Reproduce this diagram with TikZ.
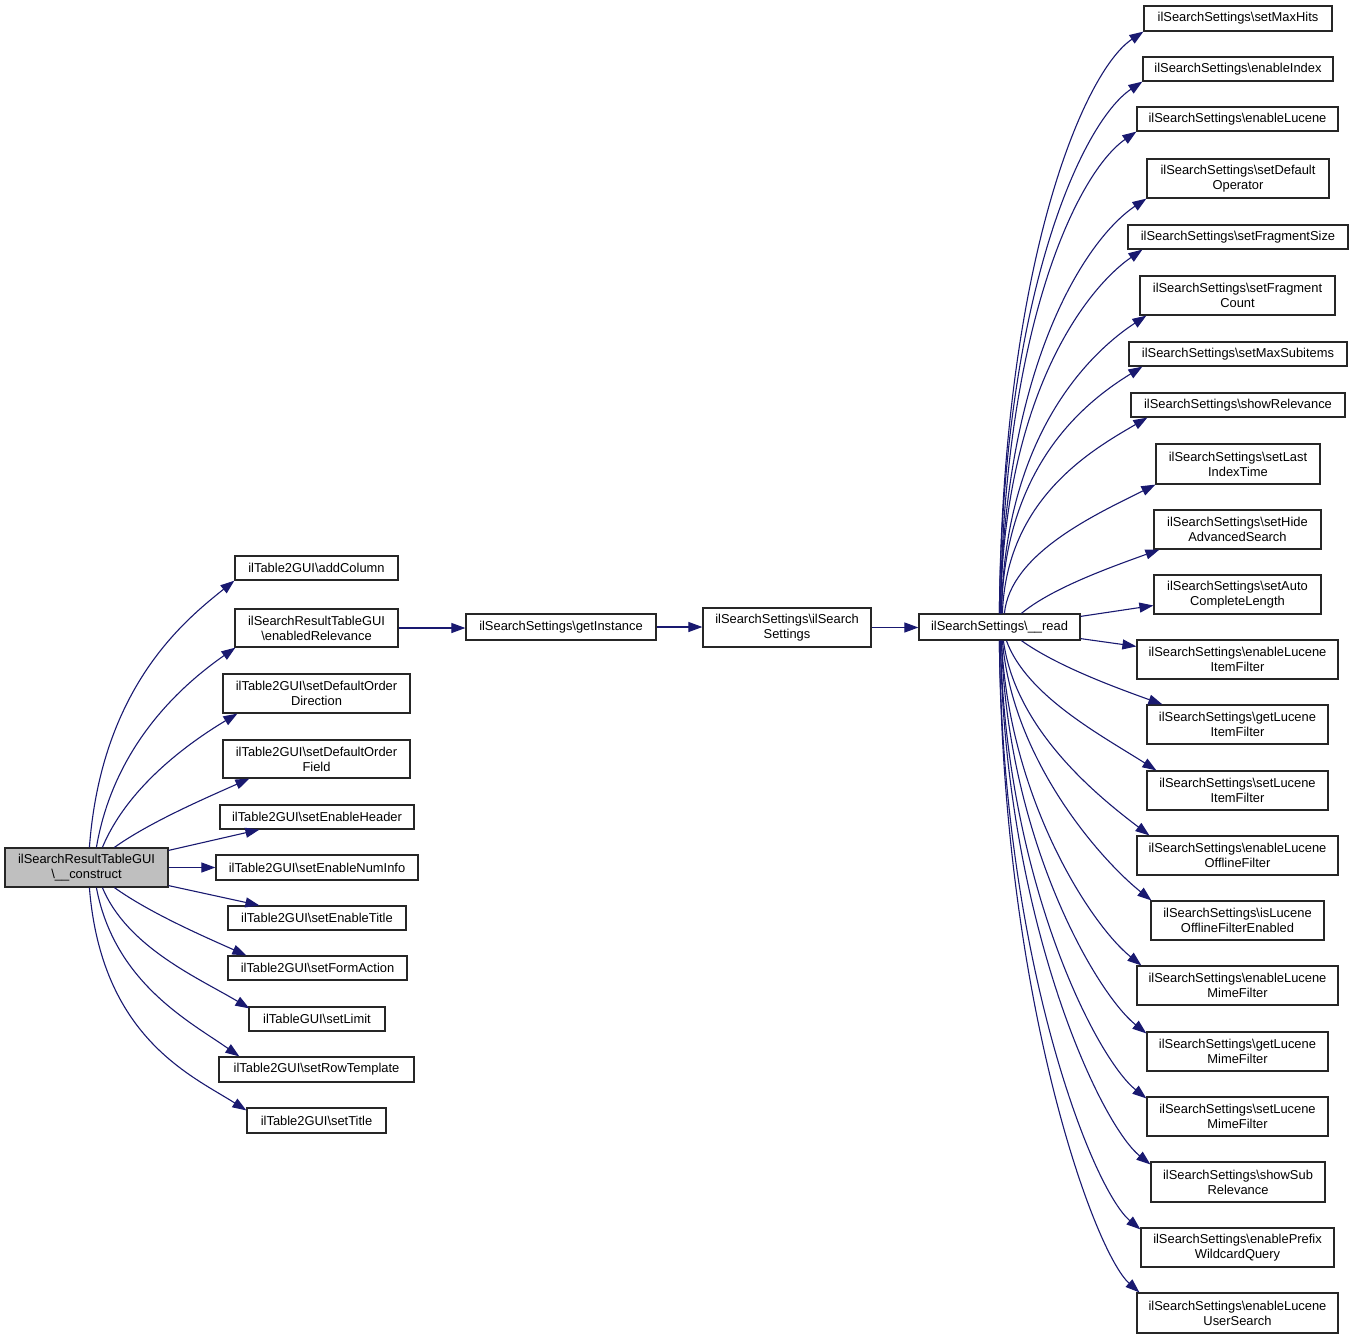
\documentclass[tikz,border=0pt]{standalone}
\usepackage{fontspec}
\setmainfont{Liberation Sans}
\usetikzlibrary{arrows.meta,calc}
\definecolor{edgec}{HTML}{191970}
\definecolor{rootfill}{HTML}{BFBFBF}
\tikzset{
  box/.style={draw=black!85,line width=1.2pt,fill=white,inner sep=0pt,align=center,
    font=\fontsize{12.9}{15}\selectfont},
  edge/.style={draw=edgec,line width=1.1pt,-{Triangle[length=14pt,width=10pt]}}
}
\newcommand\bx[7][]{\node[box,#1,minimum width={(#5-#3)*1pt},minimum height={(#6-#4)*1pt}] (#2) at ({(#3+#5)/2},{(#4+#6)/2}) {#7};}
\newcommand\bs{\textbackslash}
\begin{document}
\begin{tikzpicture}[x=1pt,y=-1pt]
\useasboundingbox (0,0) rectangle (1353,1339);
% root
\bx[fill=rootfill]{root}{5}{848}{168}{887}{ilSearchResultTableGUI\\\bs\_\_construct}
% left column
\bx{addc}{235}{556}{398}{580}{ilTable2GUI\bs addColumn}
\bx{enrel}{235}{609}{398}{647}{ilSearchResultTableGUI\\\bs enabledRelevance}
\bx{sdod}{223}{674}{410}{713}{ilTable2GUI\bs setDefaultOrder\\Direction}
\bx{sdof}{223}{740}{410}{778}{ilTable2GUI\bs setDefaultOrder\\Field}
\bx{seh}{220}{805}{414}{829}{ilTable2GUI\bs setEnableHeader}
\bx{seni}{216}{855}{418}{880}{ilTable2GUI\bs setEnableNumInfo}
\bx{set}{228}{906}{406}{930}{ilTable2GUI\bs setEnableTitle}
\bx{sfa}{228}{956}{407}{980}{ilTable2GUI\bs setFormAction}
\bx{slim}{249}{1007}{385}{1031}{ilTableGUI\bs setLimit}
\bx{srt}{219}{1057}{414}{1082}{ilTable2GUI\bs setRowTemplate}
\bx{stit}{247}{1108}{386}{1133}{ilTable2GUI\bs setTitle}
% middle
\bx{gi}{466}{614}{656}{640}{ilSearchSettings\bs getInstance}
\bx{iss}{703}{608}{871}{647}{ilSearchSettings\bs ilSearch\\Settings}
\bx{read}{919}{614}{1080}{640}{ilSearchSettings\bs\_\_read}
% right column
\bx{r1}{1144}{6}{1332}{31}{ilSearchSettings\bs setMaxHits}
\bx{r2}{1143}{57}{1333}{81}{ilSearchSettings\bs enableIndex}
\bx{r3}{1137}{107}{1338}{131}{ilSearchSettings\bs enableLucene}
\bx{r4}{1147}{159}{1329}{198}{ilSearchSettings\bs setDefault\\Operator}
\bx{r5}{1128}{225}{1348}{249}{ilSearchSettings\bs setFragmentSize}
\bx{r6}{1140}{276}{1335}{315}{ilSearchSettings\bs setFragment\\Count}
\bx{r7}{1129}{342}{1347}{366}{ilSearchSettings\bs setMaxSubitems}
\bx{r8}{1131}{393}{1345}{417}{ilSearchSettings\bs showRelevance}
\bx{r9}{1156}{444}{1320}{484}{ilSearchSettings\bs setLast\\IndexTime}
\bx{r10}{1154}{510}{1321}{549}{ilSearchSettings\bs setHide\\AdvancedSearch}
\bx{r11}{1154}{575}{1321}{614}{ilSearchSettings\bs setAuto\\CompleteLength}
\bx{r12}{1137}{640}{1338}{679}{ilSearchSettings\bs enableLucene\\ItemFilter}
\bx{r13}{1147}{705}{1328}{744}{ilSearchSettings\bs getLucene\\ItemFilter}
\bx{r14}{1147}{771}{1328}{810}{ilSearchSettings\bs setLucene\\ItemFilter}
\bx{r15}{1137}{836}{1338}{875}{ilSearchSettings\bs enableLucene\\OfflineFilter}
\bx{r16}{1151}{901}{1324}{940}{ilSearchSettings\bs isLucene\\OfflineFilterEnabled}
\bx{r17}{1137}{966}{1338}{1005}{ilSearchSettings\bs enableLucene\\MimeFilter}
\bx{r18}{1147}{1032}{1328}{1071}{ilSearchSettings\bs getLucene\\MimeFilter}
\bx{r19}{1147}{1097}{1328}{1136}{ilSearchSettings\bs setLucene\\MimeFilter}
\bx{r20}{1151}{1162}{1325}{1202}{ilSearchSettings\bs showSub\\Relevance}
\bx{r21}{1141}{1228}{1334}{1267}{ilSearchSettings\bs enablePrefix\\WildcardQuery}
\bx{r22}{1137}{1293}{1338}{1333}{ilSearchSettings\bs enableLucene\\UserSearch}
% left edges
\draw[edge] ($(root.north west)+(85,0)$) .. controls +(12,-160) and +(-50,40) .. (addc.south west);
\draw[edge] ($(root.north west)+(92,0)$) .. controls +(18,-105) and +(-50,35) .. ($(enrel.south west)+(1,0)$);
\draw[edge] ($(root.north west)+(98,0)$) .. controls +(25,-60) and +(-50,30) .. ($(sdod.south west)+(15,0)$);
\draw[edge] ($(root.north west)+(110,0)$) .. controls +(35,-25) and +(-45,20) .. ($(sdof.south west)+(27,0)$);
\draw[edge] ($(root.north east)+(0,3)$) -- ($(seh.south west)+(40,0)$);
\draw[edge] (root.east) -- (root.east -| seni.west);
\draw[edge] ($(root.south east)+(0,-2)$) -- ($(set.north west)+(32,0)$);
\draw[edge] ($(root.south west)+(110,0)$) .. controls +(35,25) and +(-45,-20) .. ($(sfa.north west)+(19,0)$);
\draw[edge] ($(root.south west)+(98,0)$) .. controls +(25,60) and +(-50,-30) .. ($(slim.north west)+(1,2)$);
\draw[edge] ($(root.south west)+(92,0)$) .. controls +(18,95) and +(-50,-35) .. ($(srt.north west)+(21,0)$);
\draw[edge] ($(root.south west)+(85,0)$) .. controls +(12,150) and +(-55,-35) .. ($(stit.north west)+(0,3)$);
% middle edges
\draw[edge] (enrel.east) -- (enrel.east -| gi.west);
\draw[edge] (gi.east) -- (gi.east -| iss.west);
\draw[edge] (iss.east) -- (iss.east -| read.west);
% right upper edges
\draw[edge] ($(read.north west)+(81,0)$) .. controls +(3,-350) and +(-60,40) .. (r1.south west);
\draw[edge] ($(read.north west)+(81,0)$) .. controls +(3,-320) and +(-60,40) .. (r2.south west);
\draw[edge] ($(read.north west)+(82,0)$) .. controls +(3,-290) and +(-58,40) .. (r3.south west);
\draw[edge] ($(read.north west)+(82,0)$) .. controls +(3,-250) and +(-60,40) .. (r4.south west);
\draw[edge] ($(read.north west)+(82,0)$) .. controls +(3,-220) and +(-55,38) .. ($(r5.south west)+(15,0)$);
\draw[edge] ($(read.north west)+(83,0)$) .. controls +(3,-180) and +(-55,36) .. ($(r6.south west)+(7,0)$);
\draw[edge] ($(read.north west)+(83,0)$) .. controls +(3,-150) and +(-55,34) .. ($(r7.south west)+(14,0)$);
\draw[edge] ($(read.north west)+(84,0)$) .. controls +(4,-115) and +(-55,32) .. ($(r8.south west)+(17,0)$);
\draw[edge] ($(read.north west)+(86,0)$) .. controls +(6,-60) and +(-60,30) .. (r9.south west);
\draw[edge] ($(read.north west)+(103,0)$) .. controls +(30,-25) and +(-50,18) .. ($(r10.south west)+(6,0)$);
\draw[edge] ($(read.north east)+(0,3)$) -- ($(r11.west)+(0,11)$);
\draw[edge] ($(read.south east)+(0,-2)$) -- ($(r12.north west)+(0,7)$);
% right lower edges
\draw[edge] ($(read.south west)+(103,0)$) .. controls +(35,25) and +(-50,-18) .. ($(r13.north west)+(16,0)$);
\draw[edge] ($(read.south west)+(88,0)$) .. controls +(20,55) and +(-55,-35) .. ($(r14.north west)+(10,0)$);
\draw[edge] ($(read.south west)+(85,0)$) .. controls +(12,90) and +(-50,-38) .. ($(r15.north west)+(13,0)$);
\draw[edge] ($(read.south west)+(84,0)$) .. controls +(10,120) and +(-50,-40) .. ($(r16.north west)+(1,0)$);
\draw[edge] ($(read.south west)+(83,0)$) .. controls +(8,160) and +(-50,-40) .. ($(r17.north west)+(5,0)$);
\draw[edge] ($(read.south west)+(83,0)$) .. controls +(6,200) and +(-50,-40) .. ($(r18.north west)+(0,2)$);
\draw[edge] ($(read.south west)+(82,0)$) .. controls +(5,240) and +(-50,-40) .. ($(r19.north west)+(0,2)$);
\draw[edge] ($(read.south west)+(82,0)$) .. controls +(4,280) and +(-50,-40) .. ($(r20.north west)+(0,3)$);
\draw[edge] ($(read.south west)+(81,0)$) .. controls +(3,320) and +(-48,-40) .. ($(r21.north west)+(0,2)$);
\draw[edge] ($(read.south west)+(81,0)$) .. controls +(3,360) and +(-45,-40) .. ($(r22.north west)+(3,0)$);
\end{tikzpicture}
\end{document}
